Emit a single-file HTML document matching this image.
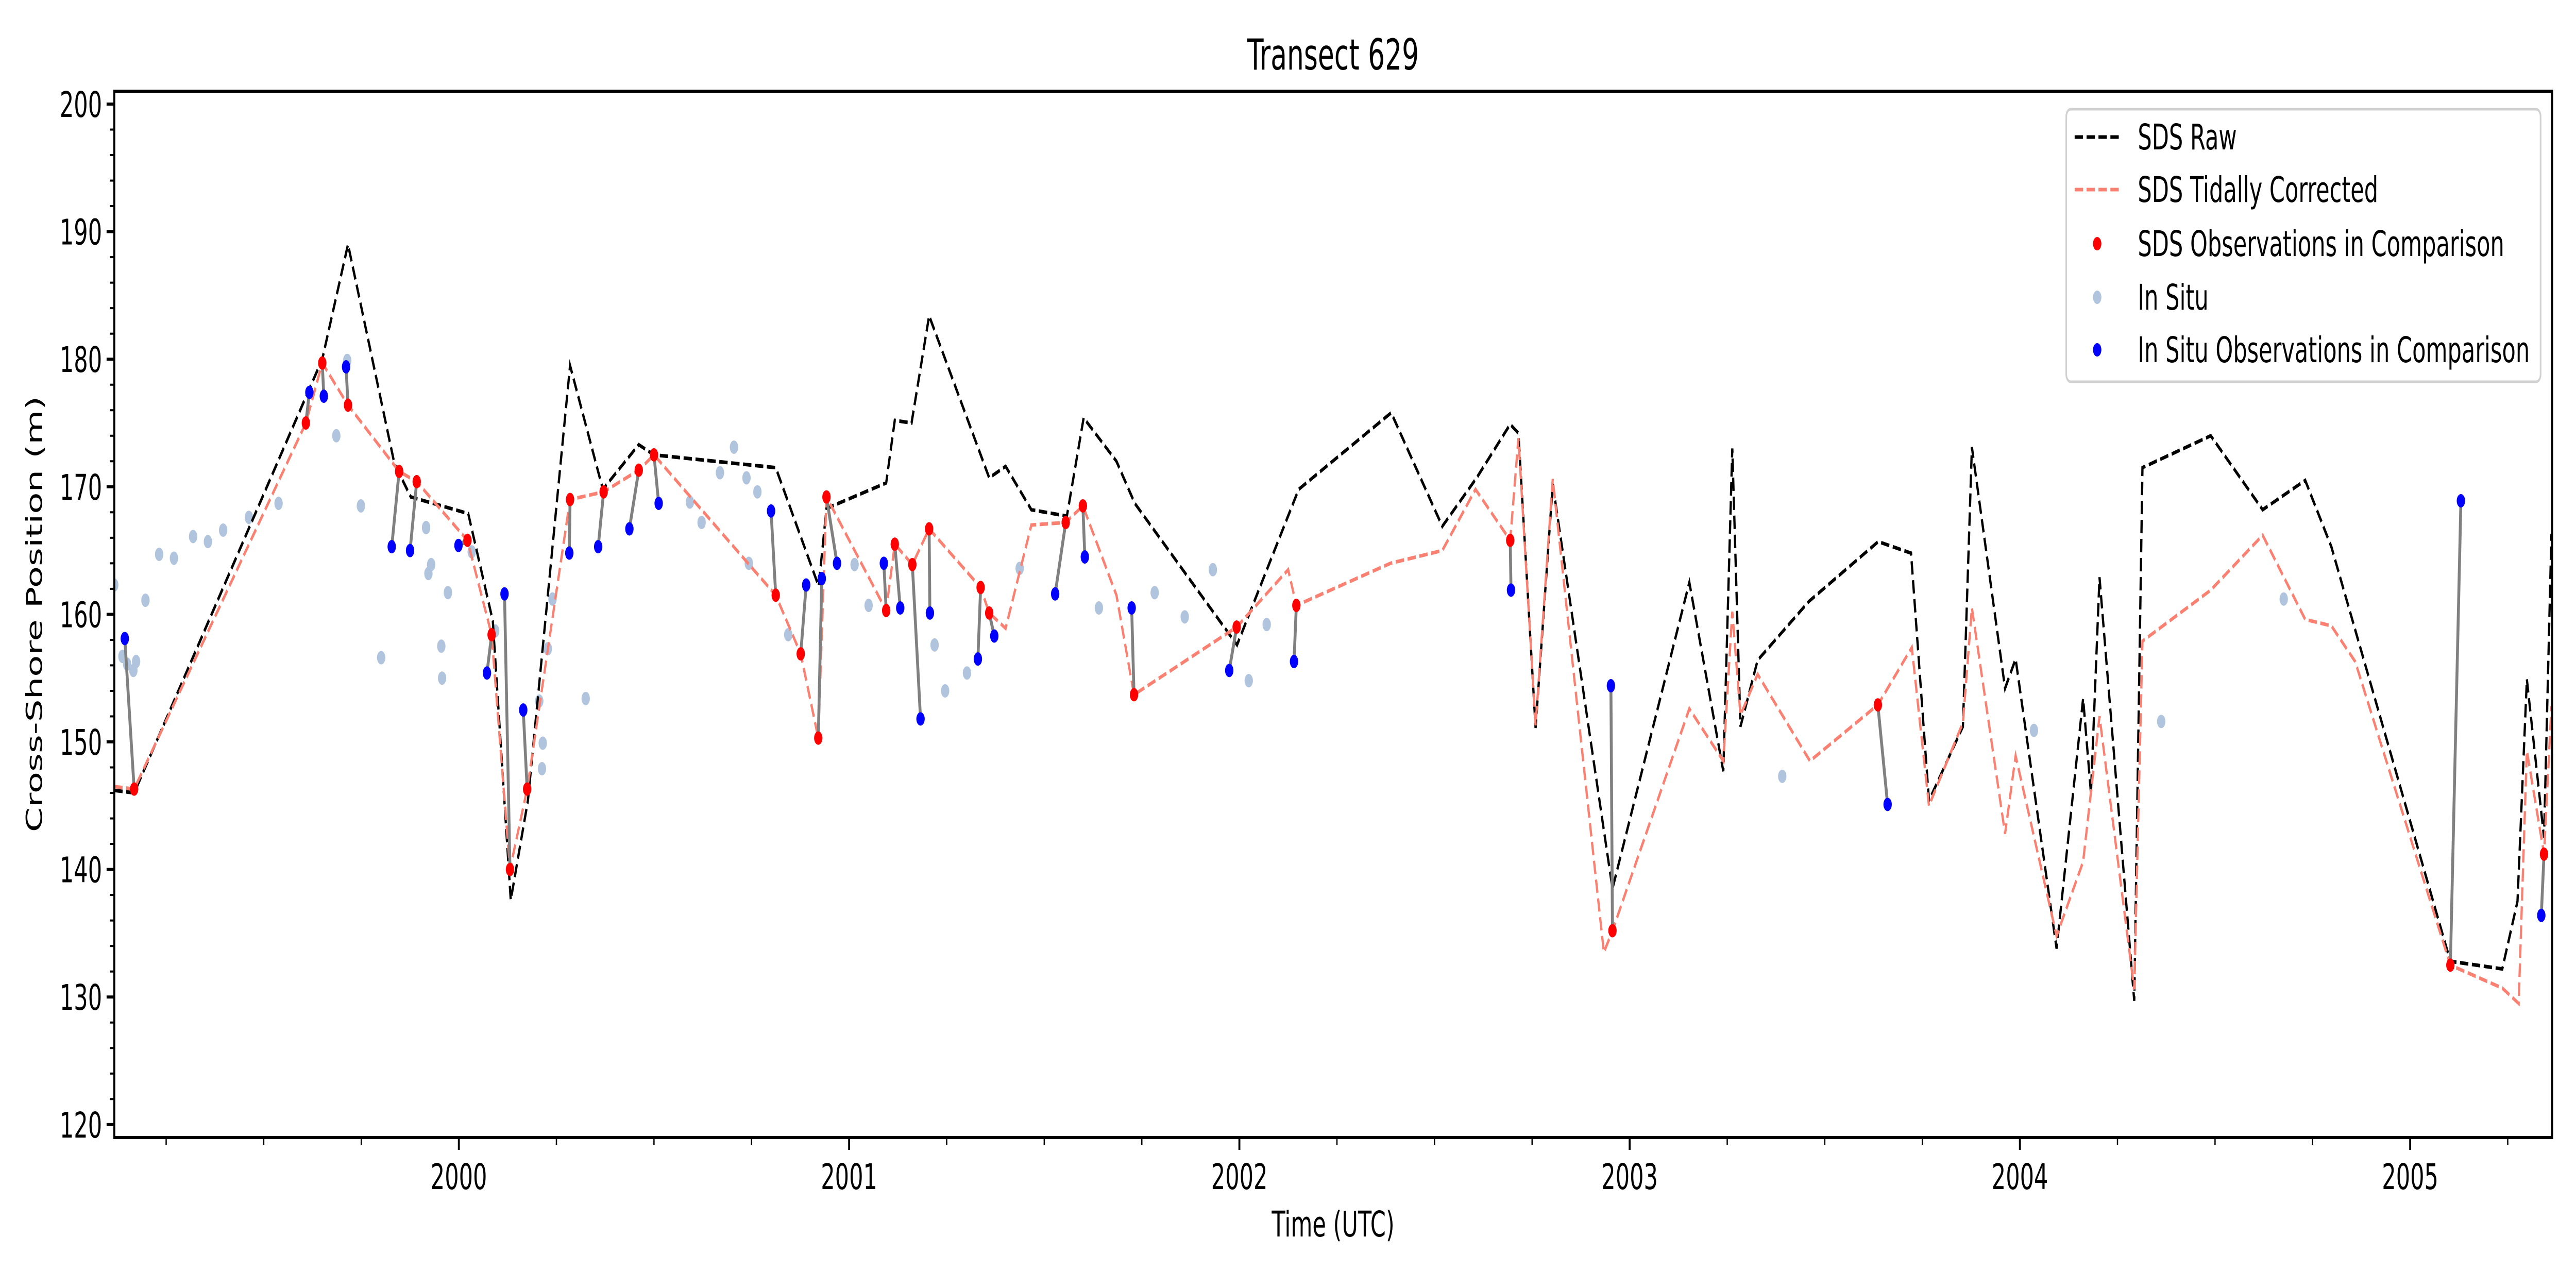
<!DOCTYPE html>
<html><head><meta charset="utf-8"><style>
html,body{margin:0;padding:0;background:#fff;width:100%;height:100%;overflow:hidden;}
svg{display:block;width:100vw;height:100vh;font-family:"DejaVu Sans","Liberation Sans",sans-serif;}
</style></head><body>
<svg id="chart" xmlns="http://www.w3.org/2000/svg" viewBox="0 0 8000 2500" preserveAspectRatio="none">
<rect x="0" y="0" width="8000" height="2500" fill="#fff"/>
<text x="4140" y="135" font-size="83" text-anchor="middle">Transect 629</text>
<g id="marks"></g>
<g id="axes"></g>
<text x="4140" y="2400" font-size="69" text-anchor="middle">Time (UTC)</text>
<text x="0" y="0" font-size="69" text-anchor="middle" transform="translate(130,1192) rotate(-90)">Cross-Shore Position (m)</text>
<g>
<rect x="6417" y="212" width="1473" height="529" rx="14" fill="#fff" fill-opacity="0.8" stroke="#d0d0d0" stroke-width="5"/>
<line x1="6443" y1="266" x2="6580" y2="266" stroke="#000" stroke-width="7" stroke-dasharray="26,11"/>
<text x="6639" y="290" font-size="69">SDS Raw</text>
<line x1="6443" y1="368" x2="6580" y2="368" stroke="#fa8072" stroke-width="7" stroke-dasharray="26,11"/>
<text x="6639" y="392" font-size="69">SDS Tidally Corrected</text>
<circle cx="6513" cy="473" r="13" fill="#ff0000"/>
<text x="6639" y="497" font-size="69">SDS Observations in Comparison</text>
<circle cx="6513" cy="577" r="13" fill="#b0c4de"/>
<text x="6639" y="601" font-size="69">In Situ</text>
<circle cx="6513" cy="679" r="13" fill="#0000ff"/>
<text x="6639" y="703" font-size="69">In Situ Observations in Comparison</text>
</g>
</svg>
<script>
const rawT = [1999.117,1999.168,1999.65,1999.716,1999.835,1999.877,2000.024,2000.087,2000.133,2000.177,2000.285,2000.369,2000.461,2000.5,2000.812,2000.922,2000.942,2001.095,2001.117,2001.16,2001.205,2001.359,2001.401,2001.467,2001.558,2001.601,2001.685,2001.732,2001.994,2002.152,2002.389,2002.52,2002.608,2002.694,2002.715,2002.759,2002.803,2002.956,2003.153,2003.24,2003.263,2003.284,2003.328,2003.459,2003.637,2003.721,2003.767,2003.854,2003.877,2003.962,2003.989,2004.094,2004.162,2004.182,2004.204,2004.293,2004.314,2004.489,2004.622,2004.731,2004.798,2005.103,2005.236,2005.275,2005.299,2005.343,2005.362];
const rawV = [146.2,146.0,180.0,189.0,171.8,169.2,167.9,159.5,137.6,145.4,179.5,169.8,173.3,172.5,171.5,162.2,168.3,170.3,175.2,175.0,183.4,170.7,171.6,168.2,167.7,175.4,172.0,168.7,157.6,169.8,175.8,166.9,170.7,174.9,174.2,151.1,170.2,138.5,162.5,147.7,173.0,151.2,156.4,161.0,165.7,164.8,145.4,151.2,173.1,154.2,156.5,133.8,153.4,146.0,162.9,129.7,171.5,174.0,168.2,170.5,165.3,132.8,132.2,137.5,154.9,142.5,166.3];
const tidT = [1999.117,1999.168,1999.608,1999.65,1999.716,1999.847,1999.892,2000.022,2000.084,2000.131,2000.175,2000.285,2000.371,2000.461,2000.5,2000.812,2000.876,2000.921,2000.942,2001.095,2001.117,2001.162,2001.205,2001.337,2001.359,2001.401,2001.467,2001.555,2001.599,2001.685,2001.73,2001.993,2002.125,2002.146,2002.387,2002.52,2002.605,2002.694,2002.715,2002.759,2002.803,2002.934,2002.956,2003.153,2003.24,2003.263,2003.284,2003.328,2003.462,2003.636,2003.723,2003.767,2003.854,2003.877,2003.962,2003.989,2004.094,2004.162,2004.204,2004.293,2004.314,2004.489,2004.622,2004.731,2004.798,2004.859,2005.103,2005.236,2005.278,2005.299,2005.343,2005.362];
const tidV = [146.5,146.3,175.0,179.7,176.4,171.2,170.4,165.8,158.4,140.0,146.3,169.0,169.6,171.3,172.5,161.5,156.9,150.3,169.2,160.3,165.5,163.9,166.7,162.1,160.1,158.9,167.0,167.2,168.5,161.5,153.7,159.0,163.5,160.7,164.0,165.0,169.8,165.8,173.8,151.3,170.6,133.5,135.2,152.6,148.5,160.2,152.1,155.3,148.5,152.9,157.4,145.0,151.5,160.5,142.8,148.9,134.8,140.6,152.0,130.6,157.9,161.9,166.2,159.6,159.1,156.3,132.5,130.7,129.5,149.3,141.2,152.8];
const sdsObsT = [1999.168,1999.608,1999.65,1999.716,1999.847,1999.892,2000.022,2000.084,2000.131,2000.175,2000.285,2000.371,2000.461,2000.5,2000.812,2000.876,2000.921,2000.942,2001.095,2001.117,2001.162,2001.205,2001.337,2001.359,2001.555,2001.599,2001.73,2001.993,2002.146,2002.694,2002.956,2003.636,2005.103,2005.343];
const sdsObsV = [146.3,175.0,179.7,176.4,171.2,170.4,165.8,158.4,140.0,146.3,169.0,169.6,171.3,172.5,161.5,156.9,150.3,169.2,160.3,165.5,163.9,166.7,162.1,160.1,167.2,168.5,153.7,159.0,160.7,165.8,135.2,152.9,132.5,141.2];
const insObsT = [1999.144,1999.617,1999.654,1999.711,1999.828,1999.875,1999.999,2000.072,2000.117,2000.165,2000.283,2000.357,2000.437,2000.512,2000.8,2000.89,2000.93,2000.969,2001.089,2001.131,2001.183,2001.207,2001.33,2001.372,2001.528,2001.604,2001.724,2001.974,2002.14,2002.696,2002.952,2003.661,2005.13,2005.336];
const insObsV = [158.1,177.4,177.1,179.4,165.3,165.0,165.4,155.4,161.6,152.5,164.8,165.3,166.7,168.7,168.1,162.3,162.8,164.0,164.0,160.5,151.8,160.1,156.5,158.3,161.6,164.5,160.5,155.6,156.3,161.9,154.4,145.1,168.9,136.4];
const inSituT = [1999.117,1999.138,1999.15,1999.166,1999.173,1999.197,1999.232,1999.27,1999.319,1999.357,1999.396,1999.462,1999.538,1999.686,1999.714,1999.749,1999.801,1999.916,1999.922,1999.929,1999.955,1999.957,1999.972,2000.033,2000.093,2000.206,2000.215,2000.213,2000.228,2000.24,2000.325,2000.592,2000.622,2000.669,2000.705,2000.737,2000.765,2000.743,2000.844,2001.014,2001.05,2001.219,2001.246,2001.302,2001.437,2001.64,2001.783,2001.86,2001.932,2002.024,2002.07,2003.391,2004.036,2004.362,2004.676];
const inSituV = [162.3,156.7,156.1,155.6,156.3,161.1,164.7,164.4,166.1,165.7,166.6,167.6,168.7,174.0,179.9,168.5,156.6,166.8,163.2,163.9,157.5,155.0,161.7,164.9,158.7,153.2,149.9,147.9,157.3,161.2,153.4,168.8,167.2,171.1,173.1,170.7,169.6,164.0,158.4,163.9,160.7,157.6,154.0,155.4,163.6,160.5,161.7,159.8,163.5,154.8,159.2,147.3,150.9,151.6,161.2];
const yTicks = [120,130,140,150,160,170,180,190,200];
const xTickYears = [2000,2001,2002,2003,2004,2005];

const L=355,R=7926,T=177,B=2208;
function xs(t){return 1425+(t-2000)*1212;}
function ys(v){return 202+(200-v)*24.76;}
const NS='http://www.w3.org/2000/svg';
const marks=document.getElementById('marks');
const axes=document.getElementById('axes');
function mk(tag,attrs,parent){const e=document.createElementNS(NS,tag);for(const k in attrs)e.setAttribute(k,attrs[k]);parent.appendChild(e);return e;}

const defs=mk('defs',{},marks);
const cp=mk('clipPath',{id:'clip'},defs);
mk('rect',{x:L,y:T,width:R-L,height:B-T},cp);
const g=mk('g',{'clip-path':'url(#clip)'},marks);

for(let i=0;i<inSituT.length;i++){
  const c=mk('circle',{cx:xs(inSituT[i]),cy:ys(inSituV[i]),r:13,fill:'#b0c4de'},g);
  
  
}
function poly(ts,vs,color,name){
  const n=Math.min(ts.length,vs.length);let d='';
  for(let i=0;i<n;i++)d+=(i?'L':'M')+xs(ts[i]).toFixed(1)+','+ys(vs[i]).toFixed(1);
  const p=mk('path',{d:d,fill:'none',stroke:color,'stroke-width':7,'stroke-dasharray':'26,11'},g);
  
  
}
poly(rawT,rawV,'#000','sds-raw-line');
poly(tidT,tidV,'#fa8072','sds-tidal-line');
for(let i=0;i<sdsObsT.length;i++){
  const l=mk('line',{x1:xs(sdsObsT[i]),y1:ys(sdsObsV[i]),x2:xs(insObsT[i]),y2:ys(insObsV[i]),stroke:'#808080','stroke-width':9},g);
  
  
}
for(let i=0;i<sdsObsT.length;i++){
  const c=mk('circle',{cx:xs(sdsObsT[i]),cy:ys(sdsObsV[i]),r:13,fill:'#ff0000'},g);
  
  
}
for(let i=0;i<insObsT.length;i++){
  const c=mk('circle',{cx:xs(insObsT[i]),cy:ys(insObsV[i]),r:13,fill:'#0000ff'},g);
  
  
}

const fr=mk('rect',{x:L,y:T,width:R-L,height:B-T,fill:'none',stroke:'#000','stroke-width':6},axes);


for(let v=120;v<=200;v+=2){
  const major=(v%10===0);
  const tk=mk('line',{x1:L,x2:L-(major?24:14),y1:ys(v),y2:ys(v),stroke:'#000','stroke-width':major?6:4},axes);
  
  
}
yTicks.forEach(v=>{
  const t=mk('text',{x:L-38,y:ys(v)+25,'font-size':69,'text-anchor':'end'},axes);
  t.textContent=String(v);
  
  
});
for(let q=1999*4;q<=2006*4;q++){
  const t=q/4;const x=xs(t);
  if(x<L-1||x>R+1)continue;
  const major=(q%4===0);
  const tk=mk('line',{x1:x,x2:x,y1:B,y2:B+(major?24:14),stroke:'#000','stroke-width':major?6:4},axes);
  
  
}
xTickYears.forEach(yr=>{
  const t=mk('text',{x:xs(yr),y:B+100,'font-size':69,'text-anchor':'middle'},axes);
  t.textContent=String(yr);
  
  
});
</script>
</body></html>
